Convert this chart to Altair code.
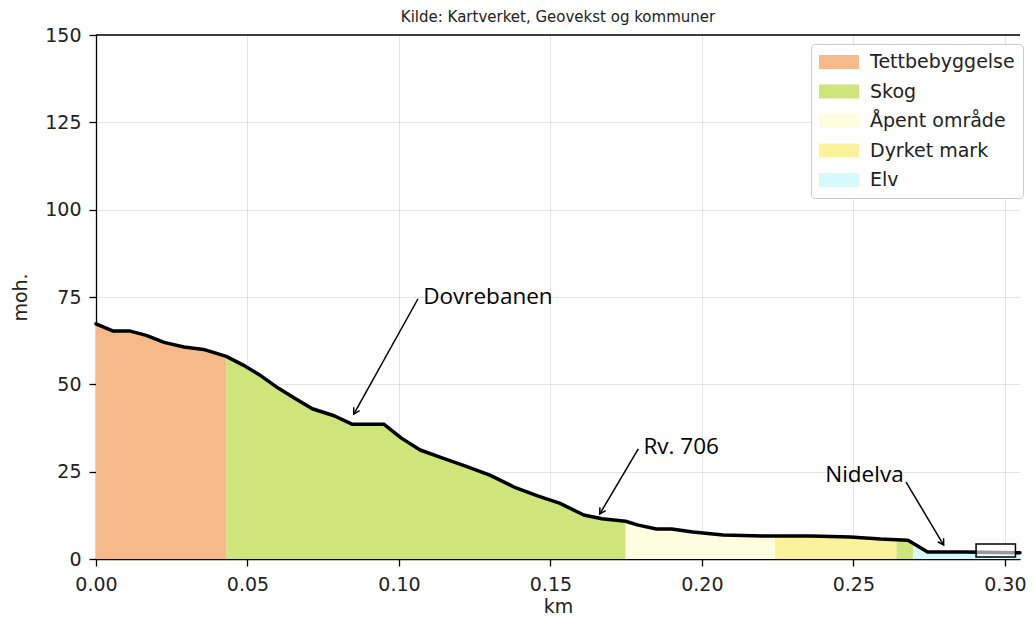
import math
import altair as alt
import pandas as pd

# ---- data ----
dist_km = [0.0, 0.0055, 0.011, 0.0166, 0.0225, 0.029, 0.0355, 0.043, 0.0486, 0.054,
           0.060, 0.066, 0.0714, 0.0786, 0.0845, 0.0894, 0.095, 0.1008, 0.107, 0.114,
           0.122, 0.130, 0.138, 0.146, 0.153, 0.161, 0.167, 0.1748, 0.179, 0.185,
           0.190, 0.197, 0.207, 0.220, 0.2241, 0.236, 0.249, 0.259, 0.2642, 0.268,
           0.2697, 0.2745, 0.2867, 0.305]
elev_m = [67.3, 65.3, 65.3, 64.0, 62.0, 60.7, 60.0, 58.0, 55.5, 52.7,
          49.0, 45.8, 43.0, 41.0, 38.6, 38.6, 38.6, 34.6, 31.2, 29.0,
          26.6, 24.0, 20.6, 18.0, 16.0, 12.6, 11.5, 10.8, 9.7, 8.6,
          8.6, 7.7, 6.9, 6.6, 6.6, 6.6, 6.3, 5.7, 5.5, 5.4,
          4.5, 2.0, 2.0, 1.8]

seg_start = [0.0, 0.043, 0.1748, 0.2241, 0.2642, 0.2697]
seg_end = [0.043, 0.1748, 0.2241, 0.2642, 0.2697, 0.305]
seg_class = ["Tettbebyggelse", "Skog", "Åpent område", "Dyrket mark", "Skog", "Elv"]

classes = ["Tettbebyggelse", "Skog", "Åpent område", "Dyrket mark", "Elv"]
class_colors = ["#f5b98a", "#cfe47a", "#fdfde0", "#fcf29c", "#d6fafc"]

ann_text = ["Dovrebanen", "Rv. 706", "Nidelva"]
ann_text_x = [0.108, 0.1807, 0.2407]
ann_text_y = [75.0, 32.0, 24.0]
ann_from_x = [0.1063, 0.179, 0.2674]
ann_from_y = [74.5, 31.5, 22.0]
ann_to_x = [0.0851, 0.1663, 0.2798]
ann_to_y = [41.5, 12.9, 4.0]

bridge_x = [0.2905]
bridge_x2 = [0.3035]
bridge_y = [0.6]
bridge_y2 = [4.3]

x_ticks = [0.0, 0.05, 0.10, 0.15, 0.20, 0.25, 0.30]
y_ticks = [0, 25, 50, 75, 100, 125, 150]

# ---- layout ----
W, H = 924, 524
XMAX, YMAX = 0.305, 150
FONT = "DejaVu Sans"

# ---- tables ----
rows = []
for i, (a, b, c) in enumerate(zip(seg_start, seg_end, seg_class)):
    for x, y in zip(dist_km, elev_m):
        if a - 1e-9 <= x <= b + 1e-9:
            rows.append({"seg": i, "klasse": c, "km": x, "moh": y})
area_df = pd.DataFrame(rows)
line_df = pd.DataFrame({"km": dist_km, "moh": elev_m})

angles = []
for fx, fy, tx, ty in zip(ann_from_x, ann_from_y, ann_to_x, ann_to_y):
    dx = (tx - fx) * W / XMAX
    dy = -(ty - fy) * H / YMAX
    angles.append(math.degrees(math.atan2(dx, -dy)) % 360)
ann_df = pd.DataFrame({"text": ann_text, "tx": ann_text_x, "ty": ann_text_y,
                       "fx": ann_from_x, "fy": ann_from_y,
                       "x": ann_to_x, "y": ann_to_y, "angle": angles})
bridge_df = pd.DataFrame({"x": bridge_x, "x2": bridge_x2, "y": bridge_y, "y2": bridge_y2})

xscale = alt.Scale(domain=[0, XMAX], nice=False, zero=False)
yscale = alt.Scale(domain=[0, YMAX], nice=False)

xaxis = alt.Axis(values=x_ticks, format=".2f", title="km", grid=True, labelFlush=False)
yaxis = alt.Axis(values=y_ticks, title="moh.", grid=True, labelFlush=False)

area = alt.Chart(area_df).mark_area(opacity=1, interpolate="linear").encode(
    x=alt.X("km:Q", scale=xscale, axis=xaxis),
    y=alt.Y("moh:Q", scale=yscale, axis=yaxis, stack=None),
    color=alt.Color("klasse:N", scale=alt.Scale(domain=classes, range=class_colors),
                    legend=alt.Legend(
                        title=None, orient="none", legendX=715, legendY=9,
                        symbolType="M-2,-0.7H2V0.7H-2Z", symbolSize=400,
                        symbolOffset=10, symbolStrokeWidth=0, symbolOpacity=1,
                        labelFont=FONT, labelFontSize=19, labelColor="#222222",
                        labelOffset=21, rowPadding=9.5, padding=8,
                        fillColor="white", strokeColor="#cccccc", cornerRadius=4)),
    detail="seg:N",
)

line = alt.Chart(line_df).mark_line(color="black", strokeWidth=3.5,
                                    strokeJoin="round", strokeCap="round").encode(
    x="km:Q", y="moh:Q")

bridge = alt.Chart(bridge_df).mark_rect(fill="white", fillOpacity=0.6,
                                        stroke="black", strokeWidth=1.5).encode(
    x="x:Q", x2="x2:Q", y="y:Q", y2="y2:Q")

shaft = alt.Chart(ann_df).mark_rule(color="black", strokeWidth=1.5).encode(
    x="fx:Q", y="fy:Q", x2="x:Q", y2="y:Q")

head = alt.Chart(ann_df).mark_point(shape="M-0.55,0.95L0,0L0.55,0.95", filled=False,
                                    stroke="black", strokeWidth=1.5, size=150,
                                    opacity=1).encode(
    x="x:Q", y="y:Q", angle=alt.Angle("angle:Q", scale=None))

labels = alt.Chart(ann_df).mark_text(align="left", baseline="middle",
                                     font="Open Sans", fontSize=22.5, color="black").encode(
    x="tx:Q", y="ty:Q", text="text:N")

top_spine = alt.Chart(pd.DataFrame({"y": [YMAX]})).mark_rule(
    color="black", strokeWidth=1.3).encode(y="y:Q")

chart = alt.layer(area, line, bridge, shaft, head, labels, top_spine).properties(
    width=W, height=H,
    title=alt.TitleParams("Kilde: Kartverket, Geovekst og kommuner", font=FONT,
                          fontSize=15, fontWeight="normal", color="#222222",
                          anchor="middle", offset=1),
    padding={"left": 88, "top": 27, "right": 7, "bottom": 56},
    autosize=alt.AutoSizeParams(type="none"),
).configure_view(stroke=None).configure_axis(
    domainColor="black", domainWidth=1.3, tickColor="black", tickSize=7,
    tickWidth=1.3, labelFont=FONT, labelFontSize=19, labelColor="#222222",
    titleFont=FONT, titleFontSize=19, titleFontWeight="normal", titleColor="#222222",
    gridColor="#000000", gridOpacity=0.1, gridWidth=1, zindex=1,
).configure_axisX(labelPadding=9, titlePadding=3).configure_axisY(
    labelPadding=8, titlePadding=14)

chart.save("out.html", embed_options={"renderer": "svg", "actions": False})
